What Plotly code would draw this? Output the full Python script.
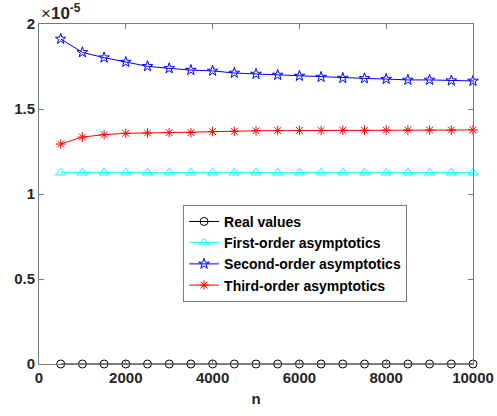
import plotly.graph_objects as go

n = [500, 1000, 1500, 2000, 2500, 3000, 3500, 4000, 4500, 5000,
     5500, 6000, 6500, 7000, 7500, 8000, 8500, 9000, 9500, 10000]

# values in units of 1e-5
real_values = [0.0] * 20
first_order = [1.125] * 20
second_order = [1.912, 1.833, 1.802, 1.776, 1.751, 1.739, 1.729, 1.724, 1.712, 1.706,
                1.700, 1.694, 1.688, 1.682, 1.680, 1.676, 1.671, 1.671, 1.667, 1.665]
third_order = [1.294, 1.335, 1.349, 1.357, 1.359, 1.361, 1.361, 1.367, 1.369, 1.372,
               1.373, 1.374, 1.374, 1.375, 1.375, 1.376, 1.376, 1.376, 1.376, 1.377]

names = ["Real values", "First-order asymptotics", "Second-order asymptotics", "Third-order asymptotics"]

x_ticks = [0, 2000, 4000, 6000, 8000, 10000]
x_ticktext = ["0", "2000", "4000", "6000", "8000", "10000"]
y_ticks = [0, 0.5, 1, 1.5, 2]
y_ticktext = ["0", "0.5", "1", "1.5", "2"]

fig = go.Figure()
series = [
    (real_values, "black", "circle-open", 8),
    (first_order, "cyan", "triangle-up-open", 9),
    (second_order, "blue", "star-open", 8),
    (third_order, "red", "asterisk-open", 8),
]
for (vals, col, sym, sz), name in zip(series, names):
    fig.add_trace(go.Scatter(
        x=n, y=vals, name=name, mode="lines+markers",
        line=dict(color=col, width=1),
        marker=dict(symbol=sym, size=sz, color=col, line=dict(color=col, width=1)),
        cliponaxis=False,
    ))

axis_common = dict(
    showgrid=False, zeroline=False, showline=True, linecolor="#7a7a7a", linewidth=1,
    mirror="ticks", ticks="inside", ticklen=5, tickcolor="#7a7a7a", automargin=False,
    tickfont=dict(family="Liberation Sans, Arial", size=15, color="#262626", weight="bold"),
)

fig.update_layout(
    width=497, height=416,
    margin=dict(l=39, r=24, t=24, b=52, autoexpand=False),
    paper_bgcolor="white", plot_bgcolor="white",
    font=dict(family="Liberation Sans, Arial", color="#262626"),
    xaxis=dict(range=[0, 10000], tickvals=x_ticks, ticktext=x_ticktext, **axis_common,
               title=dict(text="<b>n</b>", font=dict(size=15), standoff=8)),
    yaxis=dict(range=[0, 2], tickvals=y_ticks, ticktext=y_ticktext, **axis_common),
    legend=dict(x=0.332, y=0.468, xanchor="left", yanchor="top",
                bgcolor="white", bordercolor="#7a7a7a", borderwidth=1,
                font=dict(size=14, weight="bold", color="black"),
                tracegroupgap=0, itemwidth=30),
    showlegend=True,
    annotations=[dict(text="×<b>10<sup>-5</sup></b>", x=0, y=1, xref="paper", yref="paper",
                      xanchor="left", yanchor="bottom", showarrow=False, yshift=-1,
                      font=dict(size=17, color="#262626"))],
)

fig.write_html("out.html", config={"displayModeBar": False},
               post_script="document.body.style.margin='0';document.body.style.overflow='hidden';")
